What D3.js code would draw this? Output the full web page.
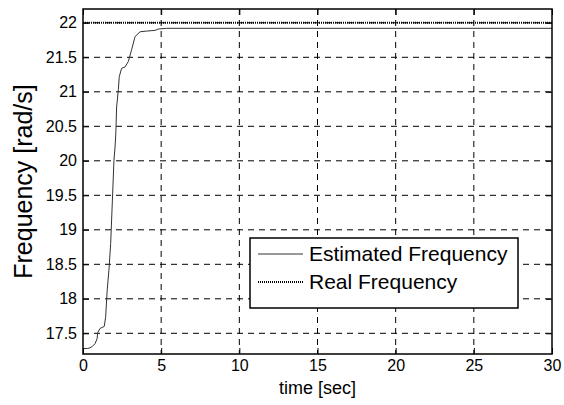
<!DOCTYPE html>
<html>
<head>
<meta charset="utf-8">
<script src="https://cdn.jsdelivr.net/npm/d3@7"></script>
<style>
  body { margin: 0; background: #fff; }
  text { font-family: Arial, "Liberation Sans", sans-serif; fill: #000; }
</style>
</head>
<body>
<script>
// Chart data
const estTime = [0, 0.3, 0.45, 0.6, 0.77, 0.9, 0.94, 1.09, 1.36, 1.45, 1.55, 1.66, 1.77, 1.88, 1.98, 2.05, 2.1, 2.15, 2.26, 2.32, 2.47, 2.69, 2.9, 3.11, 3.33, 3.65, 4.07, 4.6, 4.82, 5.35, 30];
const estFreq = [17.28, 17.28, 17.29, 17.31, 17.35, 17.42, 17.51, 17.57, 17.60, 17.74, 18.13, 18.42, 18.80, 19.43, 20.01, 20.2, 20.4, 20.78, 21.03, 21.22, 21.34, 21.36, 21.44, 21.61, 21.80, 21.87, 21.88, 21.89, 21.91, 21.92, 21.92];
const realTime = [0, 30];
const realFreq = [22, 22];
const xTicks = [0, 5, 10, 15, 20, 25, 30];
const yTicks = [17.5, 18, 18.5, 19, 19.5, 20, 20.5, 21, 21.5, 22];
const legendLabels = ["Estimated Frequency", "Real Frequency"];

// Dimensions
const width = 564;
const height = 405;
const margin = { top: 9, right: 12, bottom: 51, left: 83 };
const iw = width - margin.left - margin.right;
const ih = height - margin.top - margin.bottom;

const svg = d3.select("body").append("svg")
    .attr("width", width)
    .attr("height", height);

const g = svg.append("g").attr("transform", `translate(${margin.left},${margin.top})`);

const x = d3.scaleLinear().domain([0, 30]).range([0, iw]);
const y = d3.scaleLinear().domain([17.2, 22.2]).range([ih, 0]);

// Grid lines (dashed)
g.append("g").selectAll("line")
    .data(xTicks.filter(d => d > 0 && d < 30))
    .enter().append("line")
    .attr("x1", d => x(d)).attr("x2", d => x(d))
    .attr("y1", 0).attr("y2", ih)
    .attr("stroke", "#000").attr("stroke-width", 1)
    .attr("stroke-dasharray", "6,5");

g.append("g").selectAll("line")
    .data(yTicks)
    .enter().append("line")
    .attr("x1", 0).attr("x2", iw)
    .attr("y1", d => y(d)).attr("y2", d => y(d))
    .attr("stroke", "#000").attr("stroke-width", 1)
    .attr("stroke-dasharray", "6,5");

// Lines
const line = d3.line().x(d => x(d[0])).y(d => y(d[1]));

g.append("path")
    .datum(realTime.map((t, i) => [t, realFreq[i]]))
    .attr("d", line)
    .attr("fill", "none")
    .attr("stroke", "#000")
    .attr("stroke-width", 2)
    .attr("stroke-dasharray", "1,1");

g.append("path")
    .datum(estTime.map((t, i) => [t, estFreq[i]]))
    .attr("d", line)
    .attr("fill", "none")
    .attr("stroke", "#333")
    .attr("stroke-width", 1);

// Axes (inward ticks on all four sides)
const tickLen = 6;
const fmt = d => String(d);
const axB = g.append("g").attr("transform", `translate(0,${ih})`)
    .call(d3.axisBottom(x).tickValues(xTicks).tickFormat(fmt).tickSizeInner(-tickLen).tickSizeOuter(0).tickPadding(6));
const axT = g.append("g")
    .call(d3.axisTop(x).tickValues(xTicks).tickSizeInner(-tickLen).tickSizeOuter(0).tickFormat(""));
const axL = g.append("g")
    .call(d3.axisLeft(y).tickValues(yTicks).tickFormat(fmt).tickSizeInner(-tickLen).tickSizeOuter(0).tickPadding(6));
const axR = g.append("g").attr("transform", `translate(${iw},0)`)
    .call(d3.axisRight(y).tickValues(yTicks).tickSizeInner(-tickLen).tickSizeOuter(0).tickFormat(""));

[axB, axT, axL, axR].forEach(a => {
    a.select(".domain").remove();
    a.selectAll("line").attr("stroke", "#000").attr("stroke-width", 1);
    a.selectAll("text").style("font-size", "16px").attr("fill", "#000");
});

// Frame
g.append("rect")
    .attr("x", 0).attr("y", 0)
    .attr("width", iw).attr("height", ih)
    .attr("fill", "none")
    .attr("stroke", "#000")
    .attr("stroke-width", 1.5);

// Axis labels
svg.append("text")
    .attr("x", margin.left + iw / 2)
    .attr("y", 394)
    .attr("text-anchor", "middle")
    .style("font-size", "18px")
    .text("time [sec]");

svg.append("text")
    .attr("transform", `translate(32,${margin.top + ih / 2}) rotate(-90)`)
    .attr("text-anchor", "middle")
    .style("font-size", "25px")
    .text("Frequency [rad/s]");

// Legend
const lg = svg.append("g").attr("transform", "translate(250,238)");
lg.append("rect")
    .attr("width", 268).attr("height", 70)
    .attr("fill", "#fff")
    .attr("stroke", "#000")
    .attr("stroke-width", 1.5);

const legendStyles = [
    { stroke: "#333", width: 1, dash: null },
    { stroke: "#000", width: 2, dash: "1,1" }
];

legendLabels.forEach((label, i) => {
    const yy = 16 + i * 28;
    lg.append("line")
        .attr("x1", 8).attr("x2", 53)
        .attr("y1", yy).attr("y2", yy)
        .attr("stroke", legendStyles[i].stroke)
        .attr("stroke-width", legendStyles[i].width)
        .attr("stroke-dasharray", legendStyles[i].dash);
    lg.append("text")
        .attr("x", 59)
        .attr("y", yy + 7)
        .style("font-size", "21px")
        .text(label);
});
</script>
</body>
</html>
